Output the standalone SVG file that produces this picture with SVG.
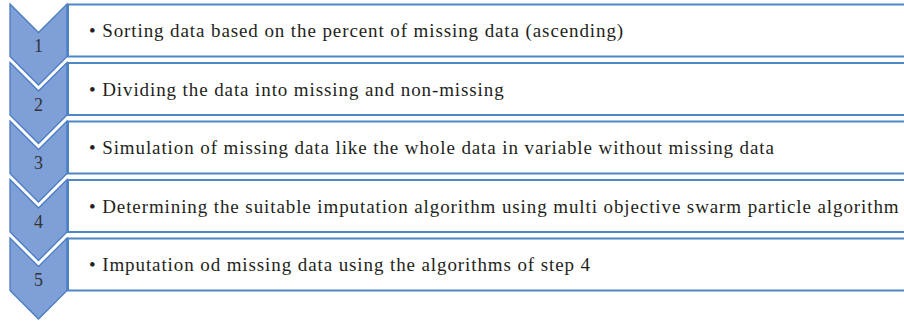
<svg xmlns="http://www.w3.org/2000/svg" width="904" height="323" viewBox="0 0 904 323">
<style>
.box{fill:#ffffff;stroke:#4f86c6;stroke-width:2}
.chev{fill:#7f9fd7;stroke:#4a7cc2;stroke-width:1.3;stroke-linejoin:miter}
.num{font-family:"Liberation Serif",serif;font-size:18px;fill:#333333;text-anchor:middle}
.txt{font-family:"Liberation Serif",serif;font-size:19px;letter-spacing:0.9px;fill:#231f20}
</style>
<rect width="904" height="323" fill="#ffffff"/>
<g id="step1">
<rect class="box" x="68" y="4.5" width="850" height="52"/>
<path class="chev" d="M10,4 L38.5,32.5 L67,4 L67,56.5 L38.5,85 L10,56.5 Z"/>
<text class="num" x="38.5" y="52">1</text>
<text class="txt" x="89" y="37">• Sorting data based on the percent of missing data (ascending)</text>
</g>
<g id="step2">
<rect class="box" x="68" y="63" width="850" height="52"/>
<path class="chev" d="M10,62.5 L38.5,91 L67,62.5 L67,115 L38.5,143.5 L10,115 Z"/>
<text class="num" x="38.5" y="110.5">2</text>
<text class="txt" x="89" y="95.5">• Dividing the data into missing and non-missing</text>
</g>
<g id="step3">
<rect class="box" x="68" y="121.5" width="850" height="52"/>
<path class="chev" d="M10,121 L38.5,149.5 L67,121 L67,173.5 L38.5,202 L10,173.5 Z"/>
<text class="num" x="38.5" y="169">3</text>
<text class="txt" x="89" y="154">• Simulation of missing data like the whole data in variable without missing data</text>
</g>
<g id="step4">
<rect class="box" x="68" y="180" width="850" height="52"/>
<path class="chev" d="M10,179.5 L38.5,208 L67,179.5 L67,232 L38.5,260.5 L10,232 Z"/>
<text class="num" x="38.5" y="227.5">4</text>
<text class="txt" x="89" y="212.5">• Determining the suitable imputation algorithm using multi objective swarm particle algorithm</text>
</g>
<g id="step5">
<rect class="box" x="68" y="238.5" width="850" height="52"/>
<path class="chev" d="M10,238 L38.5,266.5 L67,238 L67,290.5 L38.5,319 L10,290.5 Z"/>
<text class="num" x="38.5" y="286">5</text>
<text class="txt" x="89" y="271">• Imputation od missing data using the algorithms of step 4</text>
</g>
<g id="connectors"></g>
</svg>
